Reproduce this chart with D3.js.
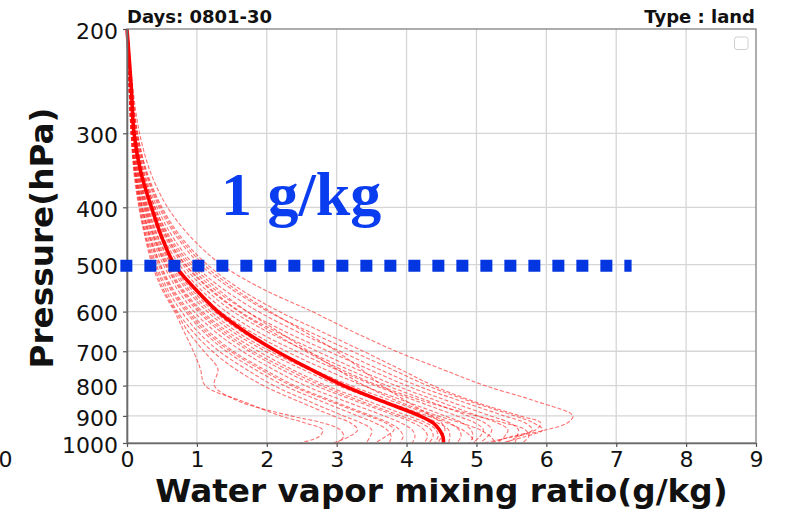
<!DOCTYPE html>
<html>
<head>
<meta charset="utf-8">
<script src="https://cdn.jsdelivr.net/npm/d3@7"></script>
<style>
  html, body { margin: 0; padding: 0; background: #fff; }
  svg { display: block; }
</style>
</head>
<body>
<svg id="chart" width="786" height="511"></svg>
<script>
// Pressure levels (hPa) shared by every profile
const levels = [200, 250, 300, 350, 400, 450, 500, 550, 600, 650, 700, 750, 800, 850, 900, 925, 950, 975, 1000];

// Mean water vapour mixing ratio profile (g/kg)
const meanProfile = [0.00, 0.06, 0.10, 0.20, 0.35, 0.50, 0.68, 0.98, 1.30, 1.70, 2.14, 2.62, 3.10, 3.65, 4.19, 4.38, 4.47, 4.52, 4.53];

// Daily profiles (g/kg), one row per day
const dailyProfiles = [
  [0.01, 0.08, 0.18, 0.34, 0.58, 0.92, 1.35, 1.95, 2.65, 3.25, 3.85, 4.50, 5.12, 5.85, 6.38, 6.30, 6.00, 5.55, 5.10],
  [0.01, 0.07, 0.15, 0.29, 0.50, 0.78, 1.15, 1.62, 2.18, 2.80, 3.38, 3.90, 4.38, 4.95, 5.62, 5.92, 5.85, 5.50, 5.20],
  [0.01, 0.07, 0.14, 0.27, 0.46, 0.72, 1.05, 1.50, 2.02, 2.62, 3.22, 3.78, 4.30, 4.90, 5.55, 5.82, 5.95, 5.70, 5.35],
  [0.01, 0.06, 0.13, 0.25, 0.43, 0.66, 0.96, 1.38, 1.88, 2.45, 3.05, 3.60, 4.15, 4.78, 5.40, 5.70, 5.80, 5.60, 5.42],
  [0.00, 0.06, 0.12, 0.23, 0.40, 0.60, 0.88, 1.25, 1.72, 2.28, 2.88, 3.45, 4.00, 4.60, 5.20, 5.48, 5.60, 5.58, 5.55],
  [0.00, 0.05, 0.12, 0.22, 0.38, 0.58, 0.84, 1.20, 1.62, 2.15, 2.72, 3.28, 3.85, 4.45, 5.02, 5.30, 5.45, 5.40, 5.30],
  [0.00, 0.05, 0.11, 0.21, 0.36, 0.55, 0.80, 1.12, 1.52, 2.02, 2.58, 3.15, 3.72, 4.32, 4.88, 5.12, 5.22, 5.16, 5.05],
  [0.00, 0.05, 0.11, 0.20, 0.34, 0.52, 0.75, 1.05, 1.42, 1.88, 2.42, 2.98, 3.55, 4.15, 4.72, 4.98, 5.10, 5.05, 4.95],
  [0.00, 0.05, 0.10, 0.19, 0.32, 0.48, 0.70, 0.98, 1.34, 1.78, 2.28, 2.82, 3.38, 3.98, 4.55, 4.80, 4.92, 4.95, 4.90],
  [0.00, 0.04, 0.10, 0.18, 0.30, 0.45, 0.65, 0.92, 1.25, 1.65, 2.12, 2.65, 3.20, 3.80, 4.38, 4.62, 4.75, 4.78, 4.72],
  [0.00, 0.04, 0.09, 0.17, 0.28, 0.42, 0.60, 0.85, 1.15, 1.52, 1.98, 2.50, 3.02, 3.62, 4.20, 4.45, 4.60, 4.62, 4.60],
  [0.00, 0.04, 0.09, 0.16, 0.27, 0.40, 0.58, 0.80, 1.08, 1.45, 1.88, 2.35, 2.85, 3.45, 4.02, 4.28, 4.42, 4.45, 4.40],
  [0.00, 0.04, 0.08, 0.15, 0.25, 0.38, 0.55, 0.76, 1.02, 1.35, 1.75, 2.20, 2.70, 3.28, 3.85, 4.10, 4.25, 4.30, 4.25],
  [0.00, 0.04, 0.08, 0.14, 0.24, 0.36, 0.52, 0.72, 0.96, 1.27, 1.65, 2.08, 2.55, 3.12, 3.68, 3.92, 4.08, 4.12, 4.08],
  [0.00, 0.03, 0.07, 0.13, 0.22, 0.34, 0.48, 0.66, 0.90, 1.18, 1.52, 1.95, 2.40, 2.95, 3.50, 3.75, 3.90, 3.95, 3.90],
  [0.00, 0.03, 0.07, 0.12, 0.21, 0.32, 0.45, 0.62, 0.84, 1.10, 1.42, 1.82, 2.25, 2.78, 3.30, 3.55, 3.72, 3.78, 3.75],
  [0.00, 0.03, 0.06, 0.12, 0.20, 0.30, 0.42, 0.58, 0.78, 1.02, 1.32, 1.70, 2.10, 2.60, 3.10, 3.35, 3.50, 3.48, 3.42],
  [0.00, 0.03, 0.06, 0.11, 0.19, 0.28, 0.40, 0.55, 0.72, 0.95, 1.22, 1.55, 1.95, 2.45, 2.95, 3.20, 3.30, 3.18, 2.95],
  [0.00, 0.03, 0.06, 0.10, 0.17, 0.26, 0.36, 0.50, 0.68, 0.82, 0.95, 1.05, 1.12, 1.65, 2.20, 2.55, 2.80, 2.75, 2.48],
  [0.00, 0.03, 0.06, 0.11, 0.18, 0.27, 0.38, 0.52, 0.70, 0.88, 1.10, 1.30, 1.25, 1.60, 2.35, 2.80, 3.05, 3.10, 3.00],
  [0.01, 0.07, 0.15, 0.28, 0.48, 0.75, 1.10, 1.55, 2.05, 2.55, 3.00, 3.35, 3.65, 4.00, 4.35, 4.50, 4.55, 4.50, 4.45],
  [0.00, 0.06, 0.13, 0.24, 0.40, 0.62, 0.92, 1.30, 1.72, 2.18, 2.60, 3.00, 3.40, 3.88, 4.45, 4.78, 5.05, 5.20, 5.28],
  [0.00, 0.05, 0.11, 0.21, 0.37, 0.57, 0.83, 1.18, 1.60, 2.08, 2.55, 3.05, 3.60, 4.25, 5.00, 5.40, 5.70, 5.75, 5.65],
  [0.00, 0.04, 0.09, 0.17, 0.29, 0.44, 0.63, 0.88, 1.20, 1.58, 2.05, 2.58, 3.12, 3.70, 4.30, 4.58, 4.80, 4.92, 4.98],
  [0.00, 0.04, 0.08, 0.15, 0.26, 0.39, 0.56, 0.78, 1.05, 1.40, 1.80, 2.28, 2.78, 3.35, 3.92, 4.20, 4.35, 4.38, 4.32],
  [0.00, 0.03, 0.07, 0.13, 0.22, 0.33, 0.47, 0.64, 0.87, 1.14, 1.48, 1.90, 2.35, 2.90, 3.45, 3.70, 3.82, 3.70, 3.55]
];

// Axis ticks
const xTicks = [0, 1, 2, 3, 4, 5, 6, 7, 8, 9];
const yTicks = [200, 300, 400, 500, 600, 700, 800, 900, 1000];

// Reference level marker
const refLevel = 500;
const refSpan = [-0.095, 7.22];
const refLabel = "1 g/kg";

const titleLeft = "Days: 0801-30";
const titleRight = "Type : land";
const xLabel = "Water vapor mixing ratio(g/kg)";
const yLabel = "Pressure(hPa)";

const svg = d3.select("#chart");
const plotLeft = 127, plotRight = 756, plotTop = 29, plotBottom = 443;

const x = d3.scaleLinear().domain([0, 9]).range([plotLeft, plotRight]);
const y = d3.scaleLog().domain([200, 1000]).range([plotTop, plotBottom]);

const sans = "'DejaVu Sans', sans-serif";

// Grid
const grid = svg.append("g");
grid.selectAll("line.gx").data(xTicks.slice(1, -1)).join("line")
  .attr("x1", d => x(d)).attr("x2", d => x(d))
  .attr("y1", plotTop).attr("y2", plotBottom)
  .attr("stroke", "#d6d6d6").attr("stroke-width", 1.3);
grid.selectAll("line.gy").data(yTicks.slice(1, -1)).join("line")
  .attr("x1", plotLeft).attr("x2", plotRight)
  .attr("y1", d => y(d)).attr("y2", d => y(d))
  .attr("stroke", "#d6d6d6").attr("stroke-width", 1.3);

// Profiles
const line = d3.line()
  .x(d => x(d[1]))
  .y(d => y(d[0]))
  .curve(d3.curveCatmullRom.alpha(0.5));

const plot = svg.append("g");
plot.selectAll("path.day").data(dailyProfiles).join("path")
  .attr("class", "day")
  .attr("d", vals => line(levels.map((p, i) => [p, vals[i]])))
  .attr("fill", "none")
  .attr("stroke", "#ff1a1a")
  .attr("stroke-opacity", 0.62)
  .attr("stroke-width", 1.1)
  .attr("stroke-dasharray", "4 2");

plot.append("path")
  .attr("d", line(levels.map((p, i) => [p, meanProfile[i]])))
  .attr("fill", "none")
  .attr("stroke", "#ff0000")
  .attr("stroke-width", 3.6);

// Frame
svg.append("rect")
  .attr("x", plotLeft).attr("y", plotTop)
  .attr("width", plotRight - plotLeft).attr("height", plotBottom - plotTop)
  .attr("fill", "none").attr("stroke", "#8a8a8a").attr("stroke-width", 1.4);

// Axes
const xAxis = svg.append("g")
  .attr("transform", `translate(0,${plotBottom})`)
  .call(d3.axisBottom(x).tickValues(xTicks).tickFormat(d3.format("d")).tickSize(4).tickSizeOuter(0).tickPadding(4));
const yAxis = svg.append("g")
  .attr("transform", `translate(${plotLeft},0)`)
  .call(d3.axisLeft(y).tickValues(yTicks).tickFormat(d3.format("d")).tickSize(4).tickSizeOuter(0).tickPadding(5));

[xAxis, yAxis].forEach(g => {
  g.select(".domain").attr("stroke", "#6a6a6a").attr("stroke-width", 1.6);
  g.selectAll(".tick line").attr("stroke", "#555").attr("stroke-width", 1.2);
  g.selectAll(".tick text")
    .attr("font-family", sans).attr("font-size", 22).attr("fill", "#111");
});
yAxis.selectAll(".tick text").attr("dy", "0.42em");

// Stray zero at the lower left edge
svg.append("text")
  .attr("x", -1.5).attr("y", 467)
  .attr("font-family", sans).attr("font-size", 22).attr("fill", "#111")
  .text("0");

// Titles
svg.append("text")
  .attr("x", plotLeft).attr("y", 22.5)
  .attr("font-family", sans).attr("font-weight", "bold").attr("font-size", 18).attr("fill", "#111")
  .text(titleLeft);
svg.append("text")
  .attr("x", plotRight - 1).attr("y", 22.5).attr("text-anchor", "end")
  .attr("font-family", sans).attr("font-weight", "bold").attr("font-size", 18).attr("fill", "#111")
  .text(titleRight);

// Empty legend frame
svg.append("rect")
  .attr("x", 734.5).attr("y", 37).attr("width", 13.5).attr("height", 12.5)
  .attr("rx", 2.5).attr("fill", "#fff").attr("stroke", "#cfcfcf").attr("stroke-width", 1);

// Axis labels
svg.append("text")
  .attr("x", (plotLeft + plotRight) / 2).attr("y", 502).attr("text-anchor", "middle")
  .attr("font-family", sans).attr("font-weight", "bold").attr("font-size", 32.7).attr("fill", "#111")
  .text(xLabel);
svg.append("text")
  .attr("transform", `translate(53,${(plotTop + plotBottom) / 2 + 2}) rotate(-90)`)
  .attr("text-anchor", "middle")
  .attr("font-family", sans).attr("font-weight", "bold").attr("font-size", 32.7).attr("fill", "#111")
  .text(yLabel);

// Reference level marker
svg.append("line")
  .attr("x1", x(refSpan[0])).attr("x2", x(refSpan[1]))
  .attr("y1", y(refLevel) + 1).attr("y2", y(refLevel) + 1)
  .attr("stroke", "#0336e0").attr("stroke-width", 12)
  .attr("stroke-dasharray", "12 12");
svg.append("text")
  .attr("x", 221).attr("y", 215)
  .attr("font-family", "'Liberation Serif', 'Times New Roman', serif")
  .attr("font-weight", "bold").attr("font-size", 62).attr("fill", "#0a3cf0")
  .text(refLabel);
</script>
</body>
</html>
